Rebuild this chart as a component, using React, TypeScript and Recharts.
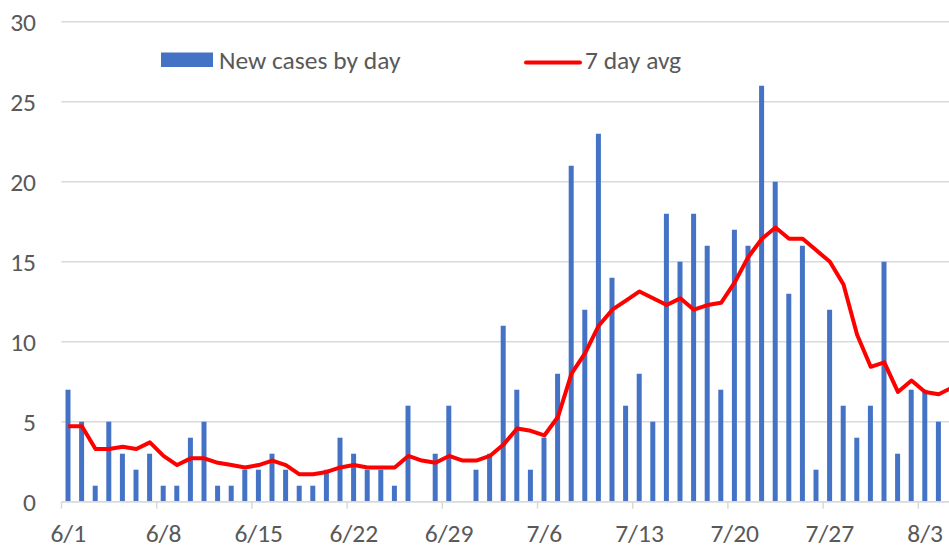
import React from "react";
import {
  ComposedChart,
  Bar,
  Line,
  XAxis,
  YAxis,
  CartesianGrid,
  Legend,
} from "recharts";

// daily labels, 6/1 .. 8/5 (the last day is cut off at the right edge)
const days = [
  "6/1", "6/2", "6/3", "6/4", "6/5", "6/6", "6/7", "6/8", "6/9", "6/10",
  "6/11", "6/12", "6/13", "6/14", "6/15", "6/16", "6/17", "6/18", "6/19", "6/20",
  "6/21", "6/22", "6/23", "6/24", "6/25", "6/26", "6/27", "6/28", "6/29", "6/30",
  "7/1", "7/2", "7/3", "7/4", "7/5", "7/6", "7/7", "7/8", "7/9", "7/10",
  "7/11", "7/12", "7/13", "7/14", "7/15", "7/16", "7/17", "7/18", "7/19", "7/20",
  "7/21", "7/22", "7/23", "7/24", "7/25", "7/26", "7/27", "7/28", "7/29", "7/30",
  "7/31", "8/1", "8/2", "8/3", "8/4", "8/5",
];

const newCases = [
  7, 5, 1, 5, 3, 2, 3, 1, 1, 4,
  5, 1, 1, 2, 2, 3, 2, 1, 1, 2,
  4, 3, 2, 2, 1, 6, 0, 3, 6, 0,
  2, 3, 11, 7, 2, 4, 8, 21, 12, 23,
  14, 6, 8, 5, 18, 15, 18, 16, 7, 17,
  16, 26, 20, 13, 16, 2, 12, 6, 4, 6,
  15, 3, 7, 7, 5, 7,
];

const avg7 = [
  4.71, 4.71, 3.29, 3.29, 3.43, 3.29, 3.71, 2.86, 2.29, 2.71,
  2.71, 2.43, 2.29, 2.14, 2.29, 2.57, 2.29, 1.71, 1.71, 1.86,
  2.14, 2.29, 2.14, 2.14, 2.14, 2.86, 2.57, 2.43, 2.86, 2.57,
  2.57, 2.86, 3.57, 4.57, 4.43, 4.14, 5.29, 8.0, 9.29, 11.0,
  12.0, 12.57, 13.14, 12.71, 12.29, 12.71, 12.0, 12.29, 12.43, 13.71,
  15.29, 16.43, 17.14, 16.43, 16.43, 15.71, 15.0, 13.57, 10.43, 8.43,
  8.71, 6.86, 7.57, 6.86, 6.71, 7.14,
];

const yTicks = [0, 5, 10, 15, 20, 25, 30];

const data = days.map((day, i) => ({
  day,
  cases: newCases[i],
  avg: avg7[i],
}));

const FONT = "Calibri, Carlito, Lato, sans-serif";
const FONT_SIZE = 25.5;
const TEXT = "#595959";
const GRID = "#d9d9d9";

const PLOT_LEFT = 61.5;
const BAND = 13.6;
const PLOT_WIDTH = BAND * days.length;
const CHART_W = 962;
const CHART_H = 548;

function DayTick(props: any) {
  const { x, y, payload } = props;
  return (
    <g>
      <line
        x1={x - BAND / 2}
        x2={x - BAND / 2}
        y1={y}
        y2={y + 7}
        stroke={GRID}
        strokeWidth={1.5}
      />
      <text
        x={x}
        y={y + 40.5}
        textAnchor="middle"
        fill={TEXT}
        fontSize={FONT_SIZE}
        fontFamily={FONT}
      >
        {payload.value}
      </text>
    </g>
  );
}

function ChartLegend() {
  return (
    <svg width={949} height={90}>
      <rect x={161} y={52.5} width={52} height={14.5} fill="#4472C4" />
      <text x={219} y={68.5} fill={TEXT} fontSize={FONT_SIZE} fontFamily={FONT}>
        New cases by day
      </text>
      <line
        x1={526}
        x2={580}
        y1={62.5}
        y2={62.5}
        stroke="#FF0000"
        strokeWidth={4}
        strokeLinecap="round"
      />
      <text x={585} y={68.5} fill={TEXT} fontSize={FONT_SIZE} fontFamily={FONT}>
        7 day avg
      </text>
    </svg>
  );
}

export default function App() {
  return (
    <div
      style={{
        position: "absolute",
        left: 0,
        top: 0,
        width: 949,
        height: 548,
        overflow: "hidden",
        background: "#fff",
      }}
    >
      <ComposedChart
        width={CHART_W}
        height={CHART_H}
        data={data}
        margin={{
          top: 21.7,
          right: CHART_W - PLOT_LEFT - PLOT_WIDTH,
          left: 0,
          bottom: 0,
        }}
        barCategoryGap={0}
      >
        <CartesianGrid
          vertical={false}
          stroke={GRID}
          strokeWidth={1.5}
        />
        <XAxis
          dataKey="day"
          interval={6}
          height={46.3}
          tickLine={false}
          tickSize={0}
          tickMargin={0}
          axisLine={{ stroke: GRID, strokeWidth: 1.5 }}
          tick={<DayTick />}
        />
        <YAxis
          width={PLOT_LEFT}
          domain={[0, 30]}
          ticks={yTicks}
          axisLine={false}
          tickLine={false}
          tickSize={0}
          tickMargin={25.5}
          tick={{ fill: TEXT, fontSize: FONT_SIZE, fontFamily: FONT }}
        />
        <Legend
          layout="horizontal"
          verticalAlign="middle"
          align="center"
          wrapperStyle={{ left: 0, top: 0, width: 949, height: 90 }}
          content={() => <ChartLegend />}
        />
        <Bar
          dataKey="cases"
          fill="#4472C4"
          barSize={5}
          isAnimationActive={false}
        />
        <Line
          dataKey="avg"
          type="linear"
          stroke="#FF0000"
          strokeWidth={4}
          strokeLinejoin="round"
          dot={false}
          activeDot={false}
          isAnimationActive={false}
        />
      </ComposedChart>
    </div>
  );
}
